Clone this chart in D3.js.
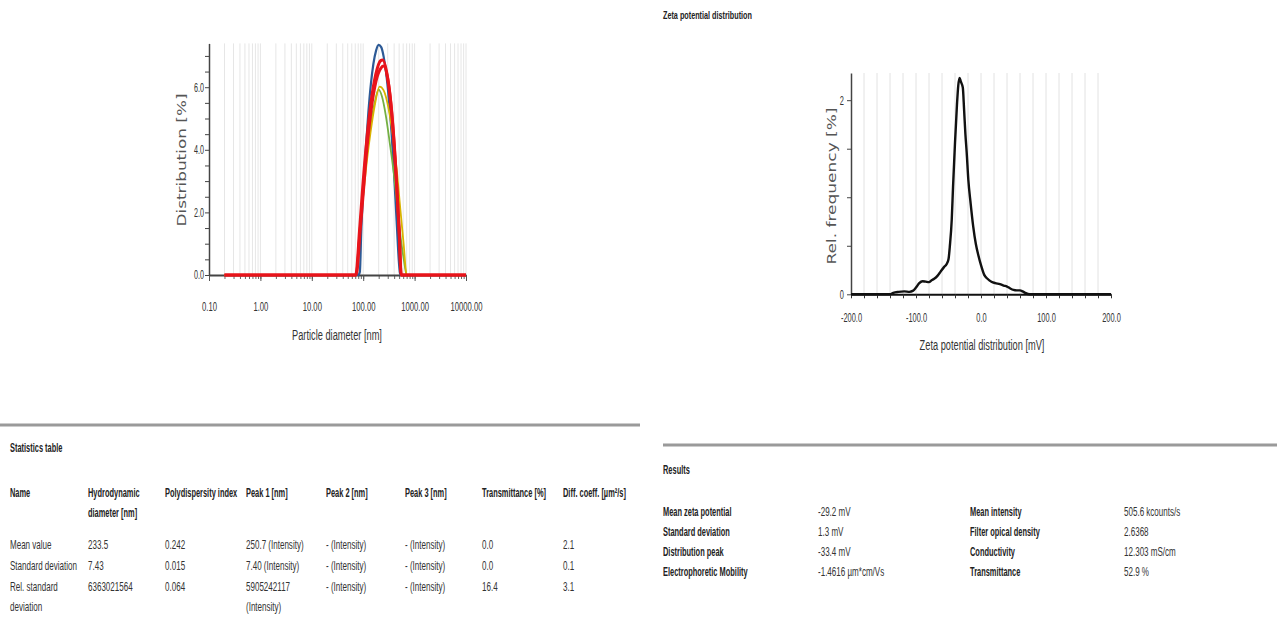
<!DOCTYPE html>
<html>
<head>
<meta charset="utf-8">
<script src="https://cdn.jsdelivr.net/npm/d3@7"></script>
<style>
  body { margin: 0; background: #fff; }
  svg { display: block; font-family: "Liberation Sans", Arial, sans-serif; }
</style>
</head>
<body>
<svg id="page" width="1277" height="625"></svg>
<script>
// ---- Particle size distribution (intensity weighted), five runs ----
const blueDiameters = [0.2, 80, 86, 92, 100, 112, 126, 141, 158, 178, 200, 224, 251, 282, 316, 355, 398, 447, 501, 525, 10000];
const blueValues    = [0, 0, 0.1, 1.47, 2.65, 4.0, 5.2, 6.1, 6.75, 7.17, 7.35, 7.28, 6.96, 6.4, 5.6, 4.57, 3.27, 1.72, 0.3, 0, 0];

const greenDiameters = [0.2, 72, 86, 98, 117, 140, 167, 200, 232, 275, 330, 390, 460, 545, 630, 700, 10000];
const greenValues    = [0, 0, 1.5, 2.6, 3.8, 4.8, 5.5, 5.92, 5.7, 5.1, 4.2, 3.3, 2.2, 1.1, 0.4, 0, 0];

const yellowDiameters = [0.2, 71.5, 85.5, 97.8, 117, 140, 167, 209, 250, 313, 374, 447, 535, 611, 700, 10000];
const yellowValues    = [0, 0, 1.4, 2.4, 3.6, 4.6, 5.4, 6.02, 5.9, 5.3, 4.5, 3.4, 2.0, 1.0, 0, 0];

const redADiameters = [0.2, 71.5, 85.5, 97.8, 117, 140, 175, 219, 239, 299, 342, 400, 447, 500, 547, 10000];
const redAValues    = [0, 0, 1.5, 2.8, 4.3, 5.45, 6.4, 6.85, 6.87, 6.3, 5.53, 4.17, 2.9, 1.4, 0, 0];

const redBDiameters = [0.2, 73, 87, 100, 119, 142, 178, 223, 250, 305, 348, 405, 452, 505, 550, 10000];
const redBValues    = [0, 0, 1.4, 2.6, 4.1, 5.25, 6.2, 6.62, 6.68, 6.2, 5.45, 4.1, 2.8, 1.3, 0, 0];

const sizeTickValues = [0.1, 1, 10, 100, 1000, 10000];
const distTickLabels = [0, 2, 4, 6];

// ---- Zeta potential distribution ----
const zetaMv   = [-200, -140, -135, -127, -118, -110, -105, -100, -95, -90, -85, -80, -76, -72, -67, -62, -57, -53, -50, -48, -45, -43, -40, -37, -35, -33, -31, -28, -26, -24, -22, -19.5, -16, -12, -8, -4, 0, 5, 10, 16, 22, 29, 35, 40, 45, 50, 55, 60, 64, 68, 75, 100, 200];
const zetaFreq = [0, 0, 0.015, 0.025, 0.03, 0.025, 0.035, 0.07, 0.115, 0.135, 0.13, 0.125, 0.145, 0.16, 0.19, 0.235, 0.28, 0.31, 0.36, 0.49, 0.77, 1.11, 1.56, 1.95, 2.15, 2.23, 2.19, 2.13, 1.9, 1.65, 1.46, 1.18, 0.94, 0.7, 0.52, 0.4, 0.3, 0.2, 0.16, 0.13, 0.115, 0.105, 0.09, 0.08, 0.06, 0.045, 0.04, 0.04, 0.03, 0.015, 0, 0, 0];
const zetaTickValues = [-200, -100, 0, 100, 200];

// ---- Tables ----
const statHeaders = [["Name"], ["Hydrodynamic", "diameter [nm]"], ["Polydispersity index"], ["Peak 1 [nm]"], ["Peak 2 [nm]"], ["Peak 3 [nm]"], ["Transmittance [%]"], ["Diff. coeff. [µm²/s]"]];
const statMean   = [["Mean value"], ["233.5"], ["0.242"], ["250.7 (Intensity)"], ["- (Intensity)"], ["- (Intensity)"], ["0.0"], ["2.1"]];
const statStdDev = [["Standard deviation"], ["7.43"], ["0.015"], ["7.40 (Intensity)"], ["- (Intensity)"], ["- (Intensity)"], ["0.0"], ["0.1"]];
const statRelStd = [["Rel. standard", "deviation"], ["6363021564"], ["0.064"], ["5905242117", "(Intensity)"], ["- (Intensity)"], ["- (Intensity)"], ["16.4"], ["3.1"]];

const resultNamesA  = ["Mean zeta potential", "Standard deviation", "Distribution peak", "Electrophoretic Mobility"];
const resultValuesA = ["-29.2 mV", "1.3 mV", "-33.4 mV", "-1.4616 µm*cm/Vs"];
const resultNamesB  = ["Mean intensity", "Filter opical density", "Conductivity", "Transmittance"];
const resultValuesB = ["505.6 kcounts/s", "2.6368", "12.303 mS/cm", "52.9 %"];

// ------------------------------------------------------------------
const svg = d3.select("#page");

// the report font is set narrow: compress each text run horizontally about its anchor
function squeeze(sel, k) {
  sel.each(function () {
    const t = d3.select(this);
    const x = +t.attr("x") || 0;
    const y = +t.attr("y") || 0;
    t.attr("x", null).attr("y", null)
     .attr("transform", `translate(${x},${y}) scale(${k},1)`);
  });
}
const REG = { size: 12, k: 0.67 };
const BOLD = { size: 12, k: 0.62 };

// ================= Particle size chart =================
const xL = d3.scaleLog().domain([0.1, 10000]).range([209, 466]);
const yL = d3.scaleLinear().domain([0, 7.4]).range([275, 43.4]);

const logMinor = [];
for (let e = -1; e <= 3; e++) for (let k = 1; k <= 9; k++) logMinor.push(+(k * Math.pow(10, e)).toPrecision(3));
logMinor.push(10000);

const gL = svg.append("g");
gL.append("g").selectAll("line").data(logMinor.filter(v => v > 0.1)).join("line")
  .attr("x1", d => xL(d)).attr("x2", d => xL(d))
  .attr("y1", yL.range()[1]).attr("y2", yL(0))
  .attr("stroke", "#e6e6e6").attr("stroke-width", 1);

// minor x ticks
gL.append("g").attr("transform", `translate(0,${yL(0)})`)
  .call(d3.axisBottom(xL).tickValues(logMinor).tickFormat("").tickSize(4).tickSizeOuter(0))
  .call(g => g.select(".domain").remove())
  .call(g => g.selectAll(".tick line").attr("stroke", "#666"));
// major x axis
gL.append("g").attr("transform", `translate(0,${yL(0)})`)
  .call(d3.axisBottom(xL).tickValues(sizeTickValues).tickFormat(d => d.toFixed(2)).tickSize(6).tickSizeOuter(0).tickPadding(26))
  .call(g => g.select(".domain").attr("stroke", "#444").attr("stroke-width", 2))
  .call(g => g.selectAll(".tick line").attr("stroke", "#555"))
  .call(g => g.selectAll(".tick text").attr("font-size", 12).attr("fill", "#333").attr("dy", "0.32em").call(squeeze, 0.64));

// y axis
const yTicksL = d3.range(0, 7.01, 0.5);
gL.append("g").attr("transform", `translate(${xL(0.1)},0)`)
  .call(d3.axisLeft(yL).tickValues(yTicksL).tickSize(4).tickSizeOuter(0)
        .tickFormat(d => distTickLabels.includes(d) ? d.toFixed(1) : ""))
  .call(g => g.select(".domain").attr("stroke", "#444").attr("stroke-width", 1.5))
  .call(g => g.selectAll(".tick line").attr("stroke", "#444"))
  .call(g => g.selectAll(".tick text").attr("font-size", 12).attr("fill", "#333").attr("x", -5).call(squeeze, 0.6));

const lineL = d3.line().x(d => xL(d[0])).y(d => yL(d[1])).curve(d3.curveMonotoneX);
const sizeSeries = [
  { d: blueDiameters,   v: blueValues,   color: "#2d5a96", w: 2.2 },
  { d: greenDiameters,  v: greenValues,  color: "#74b043", w: 1.8 },
  { d: yellowDiameters, v: yellowValues, color: "#d9b400", w: 1.8 },
  { d: redBDiameters,   v: redBValues,   color: "#e8141b", w: 3 },
  { d: redADiameters,   v: redAValues,   color: "#e8141b", w: 3 }
];
gL.append("g").selectAll("path").data(sizeSeries).join("path")
  .attr("d", s => lineL(d3.zip(s.d, s.v)))
  .attr("fill", "none").attr("stroke", s => s.color).attr("stroke-width", s => s.w)
  .attr("stroke-linejoin", "round");

gL.append("text").attr("x", 337).attr("y", 340).attr("text-anchor", "middle")
  .attr("font-size", 14).attr("fill", "#333").text("Particle diameter [nm]").call(squeeze, 0.66);
gL.append("text").attr("transform", "translate(186,160) rotate(-90)").attr("text-anchor", "middle")
  .attr("font-family", "DejaVu Sans").attr("font-size", 12).attr("fill", "#555")
  .attr("textLength", 133).attr("lengthAdjust", "spacingAndGlyphs").text("Distribution [%]");

// ================= Zeta potential chart =================
svg.append("text").attr("x", 663).attr("y", 19).attr("font-size", 11).attr("font-weight", "bold")
  .attr("fill", "#222").text("Zeta potential distribution").call(squeeze, 0.66);

const xR = d3.scaleLinear().domain([-200, 200]).range([851, 1111]);
const yR = d3.scaleLinear().domain([0, 2.28]).range([294.3, 73]);
const gR = svg.append("g");
const gridR = d3.range(-180, 181, 20);
gR.append("g").selectAll("line").data(gridR).join("line")
  .attr("x1", d => xR(d)).attr("x2", d => xR(d))
  .attr("y1", yR.range()[1]).attr("y2", yR(0))
  .attr("stroke", "#e2e2e2").attr("stroke-width", 1);

gR.append("g").attr("transform", `translate(0,${yR(0)})`)
  .call(d3.axisBottom(xR).tickValues(d3.range(-200, 201, 20)).tickSize(4).tickSizeOuter(0)
        .tickFormat(d => zetaTickValues.includes(d) ? d.toFixed(1) : "").tickPadding(15))
  .call(g => g.select(".domain").attr("stroke", "#111").attr("stroke-width", 2))
  .call(g => g.selectAll(".tick line").attr("stroke", "#333"))
  .call(g => g.selectAll(".tick text").attr("font-size", 12).attr("fill", "#333").call(squeeze, 0.62));

gR.append("g").attr("transform", `translate(${xR(-200)},0)`)
  .call(d3.axisLeft(yR).tickValues([0, 0.5, 1, 1.5, 2]).tickSize(4).tickSizeOuter(0)
        .tickFormat(d => (d === 0 || d === 2) ? String(d) : ""))
  .call(g => g.select(".domain").attr("stroke", "#444").attr("stroke-width", 1.5))
  .call(g => g.selectAll(".tick line").attr("stroke", "#444"))
  .call(g => g.selectAll(".tick text").attr("font-size", 12).attr("fill", "#333").call(squeeze, 0.62));

const lineR = d3.line().x(d => xR(d[0])).y(d => yR(d[1])).curve(d3.curveMonotoneX);
gR.append("path").attr("d", lineR(d3.zip(zetaMv, zetaFreq)))
  .attr("fill", "none").attr("stroke", "#111").attr("stroke-width", 2.4).attr("stroke-linejoin", "round");

gR.append("text").attr("x", 982).attr("y", 350).attr("text-anchor", "middle")
  .attr("font-size", 14).attr("fill", "#333").text("Zeta potential distribution [mV]").call(squeeze, 0.66);
gR.append("text").attr("transform", "translate(836,186) rotate(-90)").attr("text-anchor", "middle")
  .attr("font-family", "DejaVu Sans").attr("font-size", 12).attr("fill", "#555")
  .attr("textLength", 157).attr("lengthAdjust", "spacingAndGlyphs").text("Rel. frequency [%]");

// ================= Statistics table =================
svg.append("line").attr("x1", 0).attr("x2", 640).attr("y1", 425).attr("y2", 425)
  .attr("stroke", "#9a9a9a").attr("stroke-width", 3);
svg.append("text").attr("x", 10).attr("y", 452).attr("font-size", BOLD.size).attr("font-weight", "bold")
  .attr("fill", "#222").text("Statistics table").call(squeeze, BOLD.k);

const statColX = [10, 88, 165, 246, 326, 405, 482, 563];
const statRows = [
  { cells: statHeaders, y: 497, bold: true },
  { cells: statMean,    y: 549, bold: false },
  { cells: statStdDev,  y: 570, bold: false },
  { cells: statRelStd,  y: 591, bold: false }
];
statRows.forEach(row => {
  const f = row.bold ? BOLD : REG;
  row.cells.forEach((lines, i) => {
    lines.forEach((t, j) => {
      svg.append("text").attr("x", statColX[i]).attr("y", row.y + j * 20)
        .attr("font-size", f.size).attr("font-weight", row.bold ? "bold" : "normal")
        .attr("fill", row.bold ? "#222" : "#333").text(t).call(squeeze, f.k);
    });
  });
});

// ================= Results =================
svg.append("line").attr("x1", 663).attr("x2", 1277).attr("y1", 445).attr("y2", 445)
  .attr("stroke", "#9a9a9a").attr("stroke-width", 3);
svg.append("text").attr("x", 663).attr("y", 474).attr("font-size", BOLD.size).attr("font-weight", "bold")
  .attr("fill", "#222").text("Results").call(squeeze, BOLD.k);

const resultCols = [
  { x: 663,  texts: resultNamesA,  bold: true },
  { x: 818,  texts: resultValuesA, bold: false },
  { x: 970,  texts: resultNamesB,  bold: true },
  { x: 1124, texts: resultValuesB, bold: false }
];
resultCols.forEach(col => {
  const f = col.bold ? BOLD : REG;
  svg.append("g").selectAll("text").data(col.texts).join("text")
    .attr("x", col.x).attr("y", (d, i) => 516 + i * 20)
    .attr("font-size", f.size).attr("font-weight", col.bold ? "bold" : "normal")
    .attr("fill", col.bold ? "#222" : "#333").text(d => d).call(squeeze, f.k);
});
</script>
</body>
</html>
